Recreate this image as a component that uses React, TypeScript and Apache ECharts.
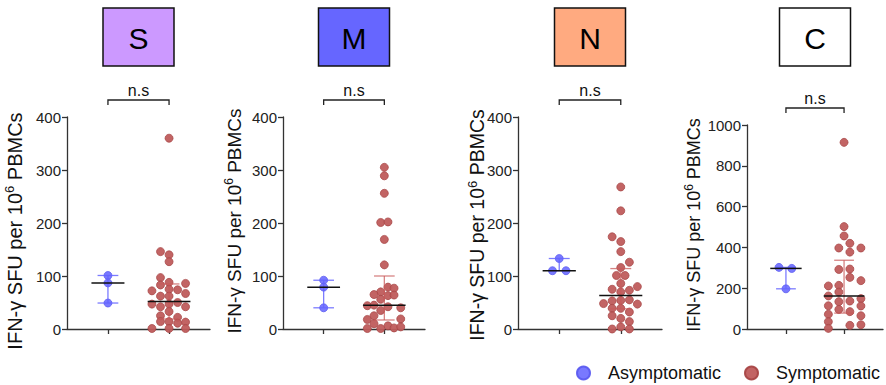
import React, { useEffect, useRef } from "react";
import * as echarts from "echarts";

const FONT = '"Liberation Sans", Arial, Helvetica, sans-serif';

const panelTitles = ["S", "M", "N", "C"];
const titleColors = ["#CC99FF", "#6666FF", "#FFAA80", "#FFFFFF"];
const groupNames = ["Asymptomatic", "Symptomatic"];
const yMax = [400, 400, 400, 1000];
const yStep = [100, 100, 100, 200];
const sigLabels = ["n.s", "n.s", "n.s", "n.s"];

// Asymptomatic values and horizontal jitter (x units)
const asymS = [101, 87, 49];
const asymSdx = [0, 0, 0];
const asymM = [92, 79, 40];
const asymMdx = [0, 0, 0];
const asymN = [133, 110, 110];
const asymNdx = [0, -0.11, 0.11];
const asymC = [302, 297, 197];
const asymCdx = [-0.12, 0.1, 0];

// Symptomatic values and horizontal jitter (x units)
const symS = [360, 146, 140, 127, 97, 88, 86, 83, 75, 74, 72, 67, 62, 62, 50, 47, 47, 42, 42, 33, 25, 22, 14, 14, 13, 11, 1, 1, 1];
const symSdx = [0, -0.14, 0, 0, -0.14, 0, 0.27, -0.14, 0, 0.14, -0.28, 0.27, -0.14, 0, 0.14, -0.28, 0, -0.14, 0.27, 0, -0.14, 0.14, -0.14, 0, 0.27, 0.14, -0.28, 0, 0.27];
const symM = [305, 289, 256, 201, 202, 169, 121, 79, 77, 70, 65, 63, 64, 56, 44, 45, 42, 40, 35, 25, 18, 19, 10, 6, 1, 2, 4, 1];
const symMdx = [0, 0, 0, -0.06, 0.06, 0, 0, 0.06, 0.16, -0.06, -0.17, 0.06, 0.16, -0.06, -0.28, -0.17, 0.06, 0.27, -0.06, -0.17, -0.28, 0.27, -0.17, 0.06, -0.28, 0.16, 0.27, -0.06];
const symN = [268, 223, 174, 165, 146, 126, 116, 101, 101, 86, 80, 75, 73, 70, 54, 53, 55, 48, 47, 39, 39, 32, 25, 20, 14, 0, 4, 0];
const symNdx = [0, 0, -0.14, 0, 0, 0.14, 0, -0.07, 0.07, 0, 0.27, -0.14, 0.14, 0, 0, -0.14, 0.14, -0.28, 0.27, -0.14, 0, 0.14, -0.14, 0, 0.14, -0.14, 0, 0.14];
const symC = [915, 502, 456, 420, 397, 377, 397, 292, 294, 253, 237, 211, 214, 181, 162, 149, 137, 134, 113, 114, 96, 85, 72, 65, 36, 18, 21, 3];
const symCdx = [0, 0, 0, 0.1, -0.09, 0.1, 0.29, -0.09, 0.1, 0.1, 0.29, -0.27, -0.09, -0.09, -0.27, 0.29, 0.1, -0.09, 0.29, -0.27, -0.09, 0.1, -0.27, 0.29, -0.27, 0.1, 0.29, -0.27];

// Summary lines: [median, lower, upper]
const asymSummary = [
  [87, 49, 101],
  [79, 40, 92],
  [110, 110, 133],
  [297, 197, 302],
];
const symSummary = [
  [52, 19, 85],
  [45, 17, 100],
  [63, 38, 114],
  [162, 78, 337],
];

const asymVals = [asymS, asymM, asymN, asymC];
const asymDx = [asymSdx, asymMdx, asymNdx, asymCdx];
const symVals = [symS, symM, symN, symC];
const symDx = [symSdx, symMdx, symNdx, symCdx];

const BLUE = "#7272FF";
const RED = "#BF5C5C";
const AXIS = "#333333";

const grids = [
  { left: 67, top: 117, width: 143, height: 212 },
  { left: 283, top: 117, width: 142, height: 212 },
  { left: 518, top: 117, width: 144, height: 212 },
  { left: 747, top: 125, width: 136, height: 204 },
];
const nameGaps = [40, 37, 29, 42];
const nameSizes = [20, 19, 19.5, 18];
const nameShift = [8, -2, 2, -2];

export default function App() {
  const ref = useRef<HTMLDivElement>(null);
  useEffect(() => {
    document.body.style.margin = "0";
    if (!ref.current) return;
    const chart = echarts.init(ref.current, null, { renderer: "svg" });

    const xAxes: any[] = [];
    const yAxes: any[] = [];
    const series: any[] = [];
    const graphics: any[] = [];

    for (let i = 0; i < 4; i++) {
      xAxes.push({
        type: "value",
        gridIndex: i,
        min: 0.33,
        max: 2.67,
        axisLine: { show: true, onZero: false, lineStyle: { color: AXIS, width: 1.3 } },
        axisTick: { show: true, customValues: [1, 2], length: 5, lineStyle: { color: AXIS, width: 1.3 } },
        axisLabel: { show: false },
        splitLine: { show: false },
      });
      const sh = nameShift[i];
      yAxes.push({
        type: "value",
        gridIndex: i,
        min: 0,
        max: yMax[i],
        interval: yStep[i],
        axisLine: { show: true, lineStyle: { color: AXIS, width: 1.3 } },
        axisTick: { show: true, length: 5, lineStyle: { color: AXIS, width: 1.3 } },
        axisLabel: {
          fontSize: 15,
          color: "#222",
          margin: 6,
          fontFamily: FONT,
          formatter: (v: number) => String(v),
        },
        splitLine: { show: false },
        name: "{a|IFN-γ SFU per 10}{b|6}{a| PBMCs}",
        nameLocation: "middle",
        nameRotate: 90,
        nameGap: nameGaps[i],
        nameMoveOverlap: false,
        nameTextStyle: {
          fontFamily: FONT,
          color: "#111",
          padding: sh >= 0 ? [0, 2 * sh, 0, 0] : [0, 0, 0, -2 * sh],
          rich: {
            a: { fontSize: nameSizes[i], fontFamily: FONT, color: "#111", lineHeight: nameSizes[i] + 4 },
            b: {
              fontSize: Math.round(nameSizes[i] * 0.65),
              fontFamily: FONT,
              color: "#111",
              verticalAlign: "top",
              lineHeight: Math.round(nameSizes[i] * 0.65),
            },
          },
        },
      });

      series.push({
        type: "scatter",
        name: groupNames[0],
        xAxisIndex: i,
        yAxisIndex: i,
        symbol: "circle",
        symbolSize: 8,
        itemStyle: { color: BLUE, borderColor: "#5C5CF0", borderWidth: 0.8, opacity: 0.95 },
        data: asymVals[i].map((v, k) => [1 + asymDx[i][k], v]),
        z: 2,
      });
      series.push({
        type: "scatter",
        name: groupNames[1],
        xAxisIndex: i,
        yAxisIndex: i,
        symbol: "circle",
        symbolSize: 8,
        itemStyle: { color: RED, borderColor: "#A84646", borderWidth: 0.8, opacity: 0.95 },
        data: symVals[i].map((v, k) => [2 + symDx[i][k], v]),
        z: 2,
      });
      series.push({
        type: "custom",
        xAxisIndex: i,
        yAxisIndex: i,
        z: 3,
        silent: true,
        data: [
          [1, ...asymSummary[i], 0],
          [2, ...symSummary[i], 1],
        ],
        renderItem: (params: any, api: any) => {
          const cx = api.value(0);
          const med = api.value(1);
          const lo = api.value(2);
          const hi = api.value(3);
          const g = api.value(4);
          const col = g === 0 ? "rgba(100,100,255,0.85)" : "rgba(200,90,90,0.75)";
          const mw = g === 0 ? 0.27 : 0.35;
          const cw = 0.17;
          const p = (x: number, y: number) => api.coord([x, y]);
          const ln = (a: number[], b: number[], stroke: string, w: number) => ({
            type: "line",
            shape: { x1: a[0], y1: a[1], x2: b[0], y2: b[1] },
            style: { stroke, lineWidth: w },
          });
          return {
            type: "group",
            children: [
              ln(p(cx, lo), p(cx, hi), col, 1.3),
              ln(p(cx - cw, lo), p(cx + cw, lo), col, 1.3),
              ln(p(cx - cw, hi), p(cx + cw, hi), col, 1.3),
              ln(p(cx - mw, med), p(cx + mw, med), "#111", 1.5),
            ],
          };
        },
      });

      // Title box
      const g = grids[i];
      const x1 = g.left + ((1 - 0.33) / 2.34) * g.width;
      const x2 = g.left + ((2 - 0.33) / 2.34) * g.width;
      const cx = (x1 + x2) / 2;
      graphics.push({
        type: "rect",
        shape: { x: cx - 35.5, y: 8, width: 71, height: 58 },
        style: { fill: titleColors[i], stroke: "#111", lineWidth: 1.5 },
      });
      graphics.push({
        type: "text",
        style: {
          text: panelTitles[i],
          x: cx,
          y: 38,
          align: "center",
          verticalAlign: "middle",
          fontSize: 30,
          fontFamily: FONT,
          fill: "#000",
        },
      });
      // significance bracket
      const by = i === 3 ? 108 : 100;
      graphics.push({
        type: "polyline",
        shape: { points: [[x1, by + 5], [x1, by], [x2, by], [x2, by + 5]] },
        style: { stroke: "#222", lineWidth: 1.3, fill: null },
      });
      graphics.push({
        type: "text",
        style: {
          text: sigLabels[i],
          x: cx,
          y: by - 2,
          align: "center",
          verticalAlign: "bottom",
          fontSize: 16,
          fontFamily: FONT,
          fill: "#111",
        },
      });
    }

    const legendBase = {
      top: 359,
      orient: "horizontal",
      icon: "circle",
      itemWidth: 13,
      itemHeight: 13,
      textStyle: { fontSize: 18, fontFamily: FONT, color: "#111", padding: [0, 0, 0, 13] },
    };

    chart.setOption({
      animation: false,
      backgroundColor: "#ffffff",
      grid: grids.map((g) => ({ ...g, containLabel: false, outerBoundsMode: "none" })),
      xAxis: xAxes,
      yAxis: yAxes,
      legend: [
        { ...legendBase, data: [groupNames[0]], left: 571 },
        { ...legendBase, data: [groupNames[1]], left: 739 },
      ],
      series,
      graphic: graphics,
    });
    return () => chart.dispose();
  }, []);
  return <div ref={ref} style={{ width: 886, height: 385 }} />;
}
